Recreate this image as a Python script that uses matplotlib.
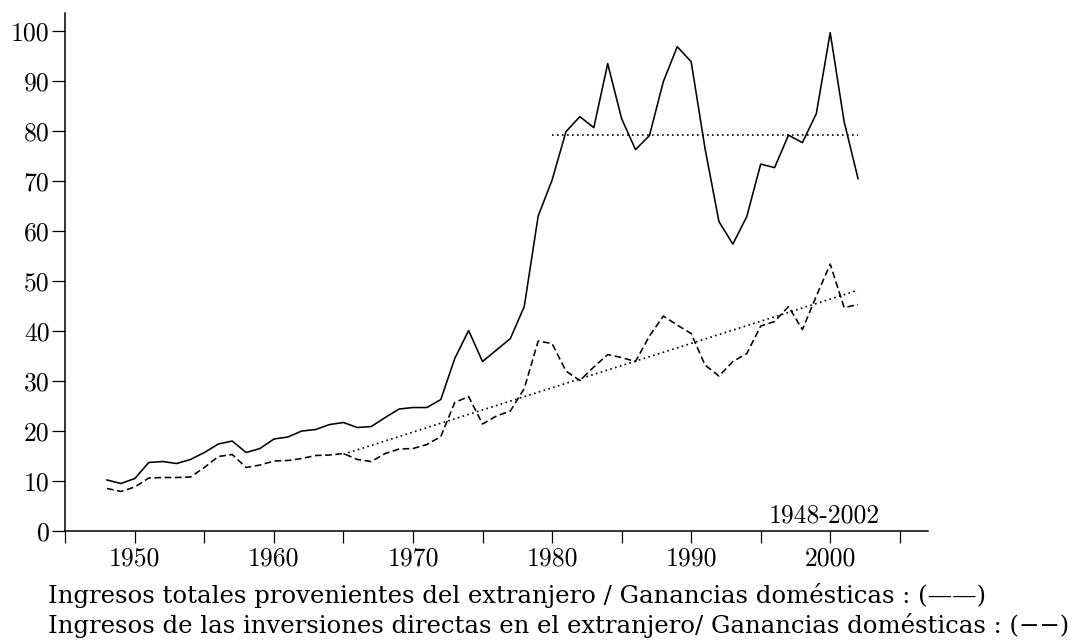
import numpy as np
import matplotlib
matplotlib.use("Agg")
import matplotlib.pyplot as plt

plt.rcParams['font.family'] = ['cmr10', 'DejaVu Serif']
plt.rcParams['mathtext.fontset'] = 'cm'
plt.rcParams['axes.unicode_minus'] = False
plt.rcParams['axes.formatter.use_mathtext'] = True

# ---- data ----
years = np.arange(1948, 2003)
total_ratio = [10.2, 9.5, 10.5, 13.7, 13.9, 13.5, 14.3, 15.7, 17.4, 18.0,
               15.7, 16.5, 18.4, 18.8, 20.0, 20.3, 21.3, 21.7, 20.7, 20.9,
               22.7, 24.4, 24.7, 24.7, 26.3, 34.5, 40.1, 33.9, 36.2, 38.5,
               44.9, 63.0, 70.2, 79.9, 82.9, 80.7, 93.5, 82.5, 76.3, 79.1,
               89.9, 96.9, 93.9, 76.5, 61.9, 57.4, 62.9, 73.4, 72.7, 79.2,
               77.7, 83.5, 99.7, 81.9, 70.5]
direct_ratio = [8.5, 7.9, 8.8, 10.6, 10.7, 10.7, 10.8, 12.7, 14.9, 15.3,
                12.7, 13.2, 14.0, 14.1, 14.5, 15.1, 15.2, 15.5, 14.3, 13.9,
                15.5, 16.4, 16.5, 17.3, 18.9, 25.7, 26.9, 21.4, 23.0, 24.0,
                28.5, 38.0, 37.5, 32.0, 30.1, 32.8, 35.3, 34.7, 33.9, 39.0,
                43.0, 41.2, 39.5, 33.2, 31.0, 33.9, 35.5, 41.0, 41.9, 44.9,
                40.3, 47.0, 53.4, 44.7, 45.3]
mean_start = 1980      # mean of total ratio 1980-2002
trend_start = 1965     # linear trend of direct ratio 1965-2002
period_label = "1948-2002"
x_ticks = list(range(1945, 2006, 5))
x_labels = [str(y) if y % 10 == 0 else "" for y in x_ticks]
y_ticks = list(range(0, 101, 10))
legend_1 = "Ingresos totales provenientes del extranjero / Ganancias domésticas : (\u2014\u2014)"
legend_2 = "Ingresos de las inversiones directas en el extranjero/ Ganancias domésticas : (\u2212\u2212)"

# ---- figure ----
fig = plt.figure(figsize=(10.76, 6.44), dpi=100)
ax = fig.add_axes([0.0607, 0.1755, 0.802, 0.8048])

yrs = np.asarray(years)
tot = np.asarray(total_ratio)
dirr = np.asarray(direct_ratio)

ax.plot(yrs, tot, color='black', lw=1.15)
ax.plot(yrs, dirr, color='black', lw=1.15, linestyle=(0, (4.2, 2.2)))

m = yrs >= mean_start
mean_val = tot[m].mean()
ax.plot([yrs[m][0], yrs[m][-1]], [mean_val, mean_val], color='black', lw=1.2,
        linestyle=(0, (1, 2)))

t = yrs >= trend_start
coef = np.polyfit(yrs[t], dirr[t], 1)
tx = np.array([yrs[t][0], yrs[t][-1]])
ax.plot(tx, np.polyval(coef, tx), color='black', lw=1.2, linestyle=(0, (1, 2)))

ax.set_xlim(1945, 2007.05)
ax.set_ylim(0, 103.7)
ax.spines['top'].set_visible(False)
ax.spines['right'].set_visible(False)
for s in ('left', 'bottom'):
    ax.spines[s].set_linewidth(1.1)
ax.set_xticks(x_ticks)
ax.set_xticklabels(x_labels)
ax.set_yticks(y_ticks)
ax.set_yticklabels([str(v) for v in y_ticks])
ax.tick_params(axis='x', direction='out', length=8.5, width=0.9, pad=3,
               labelsize=18.5)
ax.tick_params(axis='y', direction='out', length=9.3, width=0.9, pad=2,
               labelsize=18.5)

ax.text(2003.6, 0.6, period_label, ha='right', va='bottom', fontsize=18.5)

fig.text(0.045, 1 - 603 / 644, legend_1, ha='left', va='baseline',
         fontsize=17.6, family='DejaVu Serif')
fig.text(0.045, 1 - 633 / 644, legend_2, ha='left', va='baseline',
         fontsize=17.6, family='DejaVu Serif')

fig.savefig("out.png", dpi=100)
